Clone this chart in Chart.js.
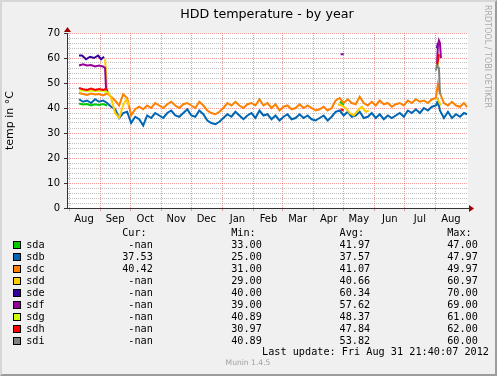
<!DOCTYPE html>
<html>
<head>
<meta charset="utf-8">
<script src="https://cdn.jsdelivr.net/npm/chart.js@4.4.0/dist/chart.umd.min.js"></script>
<style>
  body { margin: 0; }
  #wrap { position: relative; width: 497px; height: 376px; background: #f0f0f0; overflow: hidden; font-family: 'DejaVu Sans', sans-serif; }
  #chart { position: absolute; left: 0; top: 0; }
  #frame { position: absolute; left: 0; top: 0; width: 497px; height: 376px; box-sizing: border-box;
           border-left: 2px solid #d6d6d6; border-top: 2px solid #d6d6d6;
           border-right: 2px solid #9c9c9c; border-bottom: 2px solid #9c9c9c; pointer-events: none; }
  #title { position: absolute; top: 6px; left: 267px; transform: translateX(-50%); font-size: 12.7px; line-height: 16px; white-space: nowrap; color: #000; }
  #credit { position: absolute; top: 5px; left: 482px; writing-mode: vertical-rl; font-size: 8px; line-height: 11px; color: #aaa; white-space: nowrap; }
  #munin { position: absolute; top: 358px; left: 248px; transform: translateX(-50%); font-size: 7.6px; line-height: 10px; color: #a0a0a0; white-space: nowrap; }
  .leg { position: absolute; font-family: 'DejaVu Sans Mono', monospace; font-size: 10.2px; line-height: 12px; white-space: pre; color: #000; }
  .num { width: 5ch; text-align: right; }
  .box { position: absolute; width: 8px; height: 8px; box-sizing: border-box; border: 1px solid #000; }
</style>
</head>
<body>
<div id="wrap">
  <canvas id="chart" width="497" height="376"></canvas>
  <div id="title">HDD temperature - by year</div>
  <div id="credit">RRDTOOL / TOBI OETIKER</div>
  <div id="legend"></div>
  <div id="munin">Munin 1.4.5</div>
  <div id="frame"></div>
</div>
<script>
// x values are days since 30 Jul 2011, the left edge of the graph
const monthStarts = [2, 33, 63, 94, 124, 155, 186, 215, 246, 276, 307, 337, 368];
const monthLabels = ['Aug', 'Sep', 'Oct', 'Nov', 'Dec', 'Jan', 'Feb', 'Mar', 'Apr', 'May', 'Jun', 'Jul', 'Aug'];
const yMajor = [0, 10, 20, 30, 40, 50, 60, 70];

const mainDays = [12, 16, 20, 24, 28, 32, 36, 40, 44, 48, 52, 56, 60, 64, 68, 72, 76, 80, 84, 88, 92, 96,
  100, 104, 108, 112, 116, 120, 124, 128, 132, 136, 140, 144, 148, 152, 156, 160, 164, 168, 172, 176,
  180, 184, 188, 192, 196, 200, 204, 208, 212, 216, 220, 224, 228, 232, 236, 240, 244, 248, 252, 256,
  260, 264, 268, 272, 276, 280, 284, 288, 292, 296, 300, 304, 308, 312, 316, 320, 324, 328, 332, 336,
  340, 344, 348, 352, 356, 360, 364, 368, 370, 372, 376, 380, 384, 388, 392, 396, 399];
const sdb = [43.5, 42.5, 43, 42, 43.5, 42.5, 43, 42, 40.5, 39.5, 36, 38, 38.5, 34, 36.5, 35.5, 33, 37, 36, 38, 37, 36,
  38, 39, 37, 36.5, 38, 39.5, 37, 36.5, 39, 37.5, 35, 34, 33.5, 34.5, 36, 37.5, 36.5, 38.5, 37, 35.5,
  37, 38, 36, 39, 37, 37.5, 35.5, 37, 35, 36.5, 37.5, 35.5, 36, 37.5, 36, 37, 35.5, 35, 36, 37,
  35, 36.5, 38.5, 39, 37, 38.5, 36.5, 37, 38.5, 36, 36.5, 38, 36, 37.5, 35.5, 37, 36, 37, 38, 36.5,
  39, 38, 39.5, 38, 40, 39, 40.5, 41, 43, 39, 36, 38.5, 36, 37.5, 36.5, 38, 37.5];
const sdc = [46, 45.6, 45.2, 45.8, 45.4, 45.6, 45, 45.8, 44.5, 43, 41, 45.5, 44, 37, 39.5, 40.5, 39.5, 41, 40, 42, 41, 40,
  41.5, 42.5, 41, 40, 41.5, 42, 41, 40, 42.5, 41, 39, 38, 37.5, 38.5, 40, 42, 41, 42.5, 41, 40,
  41.5, 42, 41, 43.5, 41, 42, 40, 41.5, 39, 40.5, 41, 39.5, 40, 41.5, 40, 41, 40, 39, 39.5, 40.5,
  39, 40, 43, 44, 42, 43.5, 42, 41.5, 44.5, 42, 41, 42.5, 41, 43, 41.5, 42, 40.5, 41.5, 42, 41,
  43, 42, 43.5, 42.5, 43, 42, 43.5, 44, 49.5, 46, 42, 41, 42.5, 41, 40.5, 42, 40.4];

// the other disks only report for short stretches (null = no data)
const sdaDays = [12, 16, 20, 24, 28, 32, 36, 40, 100, 272, 274, 276, 320, 369, 371];
const sda = [41.8, 41.4, 41.6, 41, 41.5, 41.2, 41.6, 41, null, 42.5, 42, 41, null, 41.5, 41];
const sddDays = [38, 40, 44, 48, 52, 56, 59, 62, 150, 270, 274, 278, 282, 286, 290, 294, 298, 301, 330, 369, 371, 373];
const sdd = [59.5, 47, 44, 38, 36, 41, 43.5, 41, null, 41.5, 41, 40, 38, 37, 39, 40.5, 38.5, 39, null, 44, 42.5, 41];
const sdeDays = [12, 15, 19, 23, 27, 31, 34, 37, 200, 369, 370];
const sde = [61, 61, 59.5, 60.5, 60, 61, 59.5, 60.5, null, 64, 66];
const sdfDays = [12, 16, 20, 24, 28, 32, 36, 38, 39, 41, 200, 273, 276, 300, 369, 370, 371, 372, 373];
const sdf = [57, 57.5, 57, 57.2, 56.6, 57, 56.6, 56, 47, 47, null, 61.5, 61.5, null, 57, 65, 67, 66, 60];
const sdgDays = [12, 16, 20, 24, 28, 32, 36, 40, 200, 369, 371];
const sdg = [47, 47, 46.8, 47, 46.8, 47, 46.8, 46.5, null, 56, 60];
const sdhDays = [12, 16, 20, 24, 28, 32, 36, 40, 200, 273, 276, 300, 369, 370, 371];
const sdh = [48, 47.5, 47.2, 47.8, 47.2, 47.6, 47.2, 47.8, null, 39.5, 39, null, 56, 59, 61.5];
const sdiDays = [368, 369, 371, 372, 373];
const sdi = [55, 57, 56, 46, 45.5];

const names = ['sda', 'sdb', 'sdc', 'sdd', 'sde', 'sdf', 'sdg', 'sdh', 'sdi'];
const colors = ['#00cc00', '#0066b3', '#ff8000', '#ffcc00', '#330099', '#990099', '#ccff00', '#ff0000', '#808080'];
const curVals = ['-nan', '37.53', '40.42', '-nan', '-nan', '-nan', '-nan', '-nan', '-nan'];
const minVals = ['33.00', '25.00', '31.00', '29.00', '40.00', '39.00', '40.89', '30.97', '40.89'];
const avgVals = ['41.97', '37.57', '41.07', '40.66', '60.34', '57.62', '48.37', '47.84', '53.82'];
const maxVals = ['47.00', '47.97', '49.97', '60.97', '70.00', '69.00', '61.00', '62.00', '60.00'];

const seriesDays = [sdaDays, mainDays, mainDays, sddDays, sdeDays, sdfDays, sdgDays, sdhDays, sdiDays];
const seriesVals = [sda, sdb, sdc, sdd, sde, sdf, sdg, sdh, sdi];

const datasets = names.map((n, i) => ({
  label: n,
  data: seriesDays[i].map((d, j) => ({ x: d, y: seriesVals[i][j] })),
  borderColor: colors[i],
  borderWidth: 2,
  pointRadius: 0,
  fill: false,
  spanGaps: false,
  order: names.length - i   // later disks drawn on top, like rrdtool
}));

const redGrid = 'rgba(235, 90, 90, 0.6)';
const grayGrid = 'rgba(140, 140, 140, 0.55)';

const decor = {
  id: 'decor',
  beforeDraw(chart) {
    const { ctx, chartArea: a } = chart;
    ctx.save();
    ctx.fillStyle = '#ffffff';
    ctx.fillRect(a.left, a.top, a.right - a.left, a.bottom - a.top);
    ctx.restore();
  },
  afterDraw(chart) {
    const { ctx, chartArea: a } = chart;
    ctx.save();
    ctx.fillStyle = '#a00000';
    ctx.beginPath();
    ctx.moveTo(a.right + 1, a.bottom - 3);
    ctx.lineTo(a.right + 6, a.bottom + 0.5);
    ctx.lineTo(a.right + 1, a.bottom + 4);
    ctx.fill();
    ctx.beginPath();
    ctx.moveTo(a.left - 3, a.top - 1);
    ctx.lineTo(a.left + 0.5, a.top - 6);
    ctx.lineTo(a.left + 4, a.top - 1);
    ctx.fill();
    ctx.restore();
  }
};

Chart.defaults.font.family = "'DejaVu Sans', sans-serif";
Chart.defaults.color = '#000';

new Chart(document.getElementById('chart'), {
  type: 'line',
  data: { datasets },
  plugins: [decor],
  options: {
    responsive: false,
    animation: false,
    devicePixelRatio: 1,
    layout: { padding: { left: 0, top: 33, right: 29, bottom: 138 } },
    plugins: { legend: { display: false }, tooltip: { enabled: false } },
    scales: {
      x: {
        type: 'linear',
        min: 0,
        max: 400,
        afterBuildTicks: (scale) => {
          const t = [];
          monthStarts.forEach((d) => { t.push({ value: d }); t.push({ value: d + 15 }); });
          scale.ticks = t;
        },
        afterFit: (scale) => { scale.height = 30; },
        ticks: {
          autoSkip: false,
          maxRotation: 0,
          padding: 2,
          font: { size: 10 },
          callback: (v, i) => (i % 2 ? monthLabels[(i - 1) / 2] : '')
        },
        grid: {
          color: (ctx) => (ctx.index % 2 ? 'transparent' : redGrid),
          tickLength: 3,
          lineWidth: 1
        },
        border: { display: true, color: '#333', width: 1, dash: [1, 1] }
      },
      y: {
        type: 'linear',
        min: 0,
        max: 70,
        afterBuildTicks: (scale) => {
          const t = [];
          for (let v = 0; v <= 70; v += 2) t.push({ value: v });
          scale.ticks = t;
        },
        afterFit: (scale) => { scale.width = 67; },
        ticks: {
          autoSkip: false,
          padding: 4,
          font: { size: 10 },
          callback: (v) => (yMajor.includes(v) ? String(v) : '')
        },
        grid: {
          color: (ctx) => (ctx.tick && yMajor.includes(ctx.tick.value) ? redGrid : grayGrid),
          tickColor: (ctx) => (ctx.tick && yMajor.includes(ctx.tick.value) ? '#333' : 'transparent'),
          tickLength: 3,
          lineWidth: 1
        },
        border: { display: true, color: '#333', width: 1, dash: [1, 1] },
        title: { display: true, text: 'temp in °C', font: { size: 11 }, padding: { top: 4, bottom: 0 } }
      }
    }
  }
});

// legend table under the graph
const legend = document.getElementById('legend');
function cell(text, left, top, cls) {
  const d = document.createElement('div');
  d.className = 'leg' + (cls ? ' ' + cls : '');
  d.textContent = text;
  d.style.left = left + 'px';
  d.style.top = top + 'px';
  legend.appendChild(d);
  return d;
}
const colLeft = [122.2, 231.2, 339.5, 447.2];
['Cur:', 'Min:', 'Avg:', 'Max:'].forEach((h, k) => cell(h, colLeft[k], 226.5));
names.forEach((n, i) => {
  const top = 238.6 + 12 * i;
  const b = document.createElement('div');
  b.className = 'box';
  b.style.left = '13px';
  b.style.top = (top + 2) + 'px';
  b.style.background = colors[i];
  legend.appendChild(b);
  cell(n, 26.2, top);
  [curVals[i], minVals[i], avgVals[i], maxVals[i]].forEach((v, k) => cell(v, colLeft[k], top, 'num'));
});
const upd = cell('Last update: Fri Aug 31 21:40:07 2012', 0, 346);
upd.style.left = 'auto';
upd.style.right = '8px';
</script>
</body>
</html>
